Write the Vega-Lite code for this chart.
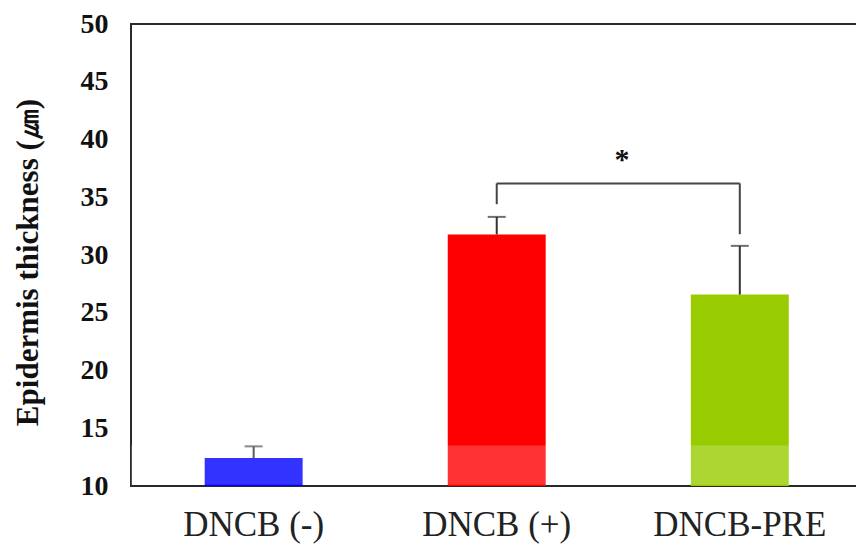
{
  "$schema": "https://vega.github.io/schema/vega-lite/v6.json",
  "width": 728,
  "height": 462,
  "autosize": {"type": "none"},
  "padding": {"left": 131, "top": 24, "right": -3, "bottom": 66},
  "background": "white",
  "config": {"view": {"stroke": "#2a2a2a", "strokeWidth": 2}},
  "datasets": {
    "groups": [
      {"group": "DNCB (-)", "mean": 12.42, "upper": 13.43},
      {"group": "DNCB (+)", "mean": 31.78, "upper": 33.3},
      {"group": "DNCB-PRE", "mean": 26.58, "upper": 30.79}
    ],
    "bracketTop": [
      {"from": "DNCB (+)", "to": "DNCB-PRE", "level": 36.2}
    ],
    "bracketLegs": [
      {"group": "DNCB (+)", "low": 34.4, "level": 36.2},
      {"group": "DNCB-PRE", "low": 31.8, "level": 36.2}
    ],
    "marker": [
      {"group": "DNCB (+)", "label": "*", "y": 37.43}
    ]
  },
  "layer": [
    {
      "data": {"name": "groups"},
      "mark": {"type": "bar", "clip": true},
      "encoding": {
        "x": {
          "field": "group",
          "type": "nominal",
          "scale": {
            "domain": ["DNCB (-)", "DNCB (+)", "DNCB-PRE"],
            "paddingInner": 0.597,
            "paddingOuter": 0.296,
            "align": 0.512
          },
          "axis": {
            "title": null,
            "labelAngle": 0,
            "ticks": false,
            "domain": false,
            "labelFont": "Liberation Serif",
            "labelFontSize": 35,
            "labelColor": "#222",
            "labelBaseline": "alphabetic",
            "labelPadding": 49
          }
        },
        "y": {
          "field": "mean",
          "type": "quantitative",
          "scale": {"domain": [10, 50], "nice": false, "zero": false},
          "axis": {
            "title": "Epidermis thickness (㎛)",
            "titleFont": "Liberation Serif",
            "titleFontSize": 31,
            "titleFontWeight": "bold",
            "titleColor": "#111",
            "titleAngle": -90,
            "titleX": -94,
            "titleY": 238,
            "titleAlign": "center",
            "titleBaseline": "alphabetic",
            "values": [10, 15, 20, 25, 30, 35, 40, 45, 50],
            "labelFont": "Liberation Serif",
            "labelFontWeight": "bold",
            "labelFontSize": 28,
            "labelColor": "#111",
            "labelBaseline": "middle",
            "ticks": false,
            "labelPadding": 23,
            "domain": false,
            "grid": false,
            "zindex": 1
          }
        },
        "color": {
          "field": "group",
          "type": "nominal",
          "scale": {
            "domain": ["DNCB (-)", "DNCB (+)", "DNCB-PRE"],
            "range": ["#0000FF", "#FF0000", "#99CC00"]
          },
          "legend": null
        }
      }
    },
    {
      "data": {"name": "groups"},
      "mark": {"type": "rule", "color": "#333", "strokeWidth": 2},
      "encoding": {
        "x": {"field": "group", "type": "nominal"},
        "y": {"field": "mean", "type": "quantitative"},
        "y2": {"field": "upper"}
      }
    },
    {
      "data": {"name": "groups"},
      "mark": {"type": "tick", "color": "#333", "size": 18, "thickness": 2},
      "encoding": {
        "x": {"field": "group", "type": "nominal"},
        "y": {"field": "upper", "type": "quantitative"}
      }
    },
    {
      "data": {"name": "bracketTop"},
      "mark": {"type": "rule", "color": "#444", "strokeWidth": 2},
      "encoding": {
        "x": {"field": "from", "type": "nominal"},
        "x2": {"field": "to"},
        "y": {"field": "level", "type": "quantitative"}
      }
    },
    {
      "data": {"name": "bracketLegs"},
      "mark": {"type": "rule", "color": "#444", "strokeWidth": 2},
      "encoding": {
        "x": {"field": "group", "type": "nominal"},
        "y": {"field": "low", "type": "quantitative"},
        "y2": {"field": "level"}
      }
    },
    {
      "data": {"name": "marker"},
      "mark": {"type": "text", "font": "Liberation Serif", "fontWeight": "bold", "fontSize": 30, "color": "#111", "baseline": "alphabetic", "align": "center"},
      "encoding": {
        "x": {"field": "group", "type": "nominal", "bandPosition": 1.78},
        "y": {"field": "y", "type": "quantitative"},
        "text": {"field": "label"}
      }
    },
    {
      "data": {"values": [{}]},
      "mark": {"type": "rect", "color": "white", "opacity": 0.2},
      "encoding": {"y": {"datum": 10.1}, "y2": {"datum": 13.5}}
    }
  ]
}
